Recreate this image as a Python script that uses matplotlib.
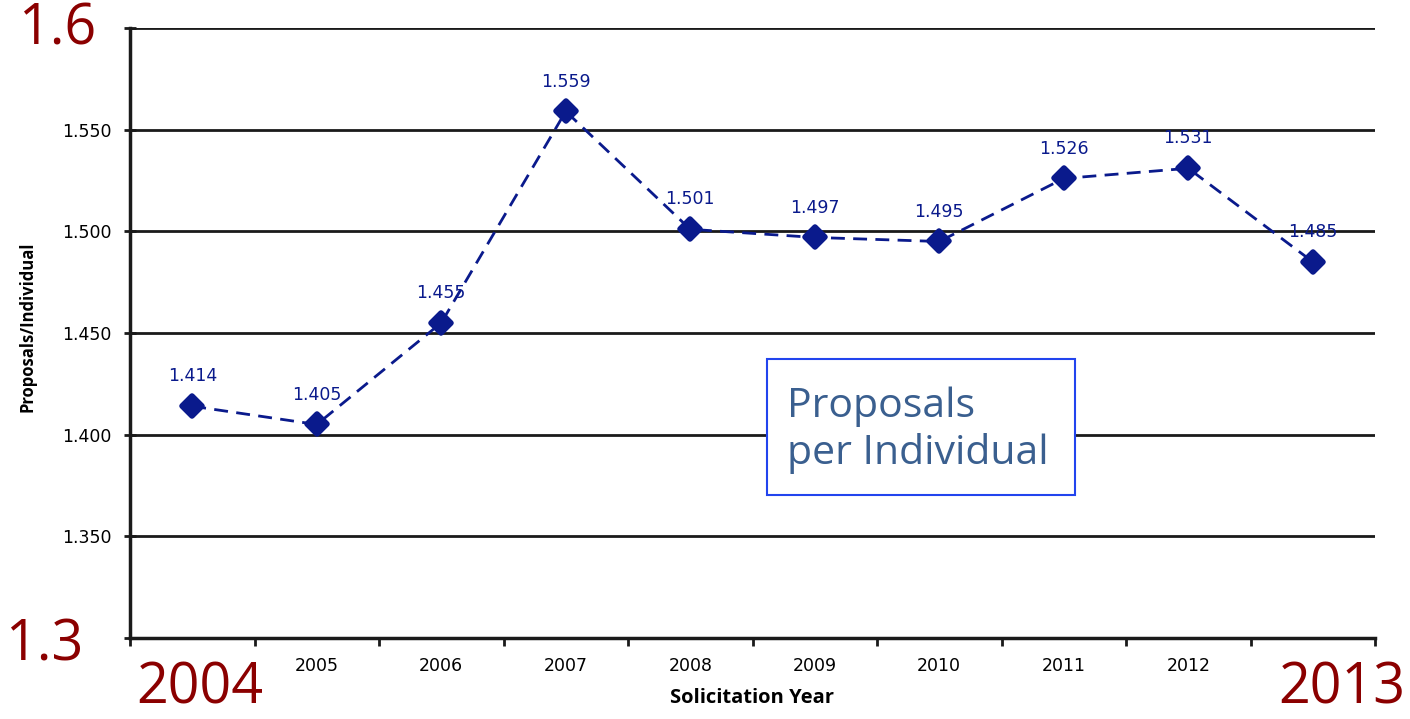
import matplotlib.pyplot as plt
from matplotlib.markers import MarkerStyle
from matplotlib.patches import Rectangle
from matplotlib.ticker import FixedLocator

years = ['2004', '2005', '2006', '2007', '2008', '2009', '2010', '2011', '2012', '2013']
ratio = [1.414, 1.405, 1.455, 1.559, 1.501, 1.497, 1.495, 1.526, 1.531, 1.485]
ytick_vals = [1.30, 1.35, 1.40, 1.45, 1.50, 1.55, 1.60]
grid_vals = [1.35, 1.40, 1.45, 1.50, 1.55, 1.60]

navy = '#0a1a8c'
red = '#8b0000'

fig = plt.figure(figsize=(14.1, 7.19), dpi=100)
ax = fig.add_axes([130 / 1410, 1 - 638 / 719, 1245 / 1410, 610 / 719])

x = list(range(len(years)))
blob = MarkerStyle('D', joinstyle='round')
ax.plot(x, ratio, linestyle=(0, (5, 3)), color=navy, lw=2, marker=blob,
        markersize=10, markerfacecolor=navy, markeredgecolor=navy,
        markeredgewidth=4, zorder=5)
for xi, v in zip(x, ratio):
    ax.annotate(f'{v:.3f}', (xi, v), xytext=(0, 15), textcoords='offset points',
                ha='center', va='bottom', color=navy, fontsize=12.5, zorder=6)

ax.set_xlim(-0.5, 9.5)
ax.set_ylim(1.3, 1.6)
for g in grid_vals:
    ax.axhline(g, color='#1a1a1a', lw=2, zorder=1)

# x labels in the middle of each category, ticks on the boundaries
ax.set_xticks(x[1:-1])
ax.set_xticklabels(years[1:-1], fontsize=12.5)
ax.tick_params(axis='x', which='major', length=0, pad=14)
ax.xaxis.set_minor_locator(FixedLocator([i - 0.5 for i in range(len(years) + 1)]))
ax.tick_params(axis='x', which='minor', length=6, width=2, direction='out', color='#1a1a1a')

# 1.3 and 1.6 labels are drawn large in red below
ax.set_yticks(ytick_vals)
ax.set_yticklabels([''] + [f'{v:.3f}' for v in ytick_vals[1:-1]] + [''], fontsize=12.5)
ax.tick_params(axis='y', length=8, width=2, direction='inout', color='#1a1a1a', pad=9)

for s in ['top', 'right']:
    ax.spines[s].set_visible(False)
for s in ['left', 'bottom']:
    ax.spines[s].set_linewidth(2.5)
    ax.spines[s].set_color('#1a1a1a')

ax.set_xlabel('Solicitation Year', fontsize=14.5, fontweight='bold', family='Open Sans')
ax.set_ylabel('Proposals/Individual', fontsize=12, fontweight='bold', family='Open Sans')
ax.xaxis.set_label_coords(0.5, -0.082)
ax.yaxis.set_label_coords(-0.075, 0.511)

ax.add_patch(Rectangle((0.5116, 0.2344), 0.2474, 0.2226, transform=ax.transAxes,
                       facecolor='white', edgecolor='#2244ee', lw=1.5, zorder=7))
ax.text(0.5277, 0.341, 'Proposals\nper Individual', transform=ax.transAxes,
        fontsize=29.5, color='#3a5f8f', family='Open Sans', linespacing=1.2,
        ha='left', va='center', zorder=8)

big = dict(color=red, fontsize=40, family='Open Sans')
fig.text(18 / 1410, 1 - 30 / 719, '1.6', va='center', ha='left', **big)
fig.text(5 / 1410, 1 - 646 / 719, '1.3', va='center', ha='left', **big)
fig.text(136 / 1410, 1 - 718 / 719, '2004', va='bottom', ha='left', **big)
fig.text(1405 / 1410, 1 - 718 / 719, '2013', va='bottom', ha='right', **big)

fig.savefig('out.png', dpi=100)
